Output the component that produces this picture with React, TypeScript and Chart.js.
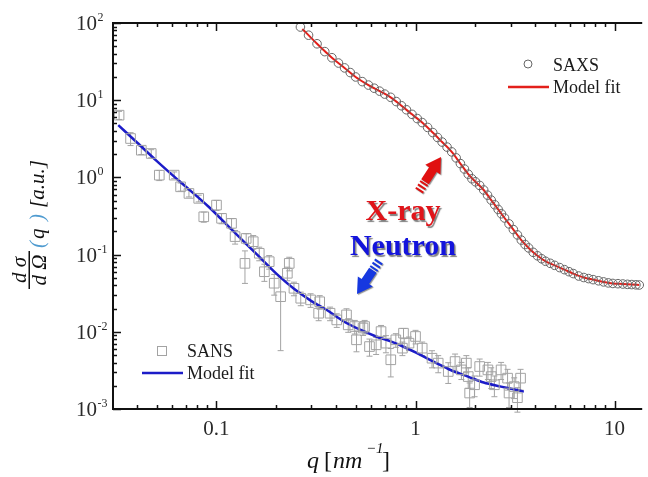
import React, { useEffect, useRef } from "react";
import { Chart, registerables } from "chart.js";
Chart.register(...registerables);

// ---- data ----
const saxsQ = [0.264,0.29,0.32,0.35,0.38,0.41,0.44,0.47,0.50,0.54,0.58,0.62,0.66,0.70,0.75,0.80,0.85,0.90,0.96,1.02,1.08,1.15,1.22,1.29,1.36,1.44,1.52,1.60,1.68,1.76,1.84,1.92,2.0,2.1,2.2,2.3,2.4,2.5,2.6,2.7,2.8,2.95,3.1,3.25,3.4,3.55,3.7,3.9,4.1,4.3,4.5,4.75,5.0,5.3,5.6,5.9,6.2,6.6,7.0,7.4,7.8,8.3,8.8,9.3,9.8,10.4,11.0,11.6,12.2,12.8,13.3];
const saxsI = [88.7,69.5,53.8,42.6,35.5,30.3,26.2,22.8,20.0,17.4,15.7,14.3,13.1,12.0,10.9,9.6,8.47,7.52,6.56,5.78,5.13,4.44,3.81,3.29,2.87,2.47,2.14,1.79,1.51,1.285,1.10,0.96,0.877,0.787,0.687,0.589,0.508,0.442,0.385,0.338,0.298,0.250,0.211,0.180,0.154,0.135,0.122,0.107,0.0964,0.0883,0.0820,0.0771,0.0726,0.0679,0.0638,0.0601,0.0568,0.0528,0.0505,0.0489,0.0474,0.0458,0.0443,0.0430,0.0423,0.0420,0.0416,0.0412,0.0409,0.0406,0.0404];

const saxsFitQ = [0.27,0.32,0.38,0.44,0.5,0.58,0.66,0.75,0.85,0.96,1.08,1.22,1.36,1.52,1.68,1.84,2.0,2.2,2.4,2.6,2.8,3.1,3.4,3.7,4.1,4.5,5.0,5.6,6.2,7.0,7.8,8.8,9.8,11.0,12.2,13.3];
const saxsFitI = [83.8,53.8,35.5,26.2,20.0,15.7,13.1,10.9,8.47,6.56,5.13,3.81,2.87,2.14,1.51,1.10,0.877,0.687,0.508,0.385,0.298,0.211,0.154,0.122,0.0964,0.082,0.0726,0.0638,0.0568,0.0505,0.0474,0.0443,0.0423,0.0416,0.0409,0.0404];

const sansQ = [0.0324,0.037,0.0419,0.047,0.0516,0.0613,0.066,0.0727,0.0814,0.0863,0.100,0.106,0.119,0.124,0.139,0.141,0.153,0.164,0.174,0.184,0.195,0.210,0.227,0.232,0.245,0.265,0.297,0.326,0.330,0.372,0.402,0.450,0.459,0.495,0.505,0.545,0.555,0.587,0.634,0.671,0.710,0.751,0.796,0.859,0.870,0.927,1.00,1.08,1.21,1.30,1.46,1.58,1.70,1.80,1.84,1.87,1.98,2.10,2.31,2.40,2.49,2.69,2.90,2.95,3.13,3.25,3.37];
const sansI = [6.4,3.19,2.25,2.04,1.07,1.07,0.755,0.62,0.535,0.309,0.438,0.295,0.254,0.171,0.077,0.162,0.147,0.104,0.060,0.081,0.0426,0.0285,0.0573,0.077,0.0366,0.0272,0.0259,0.0174,0.0245,0.0174,0.01425,0.01655,0.0123,0.0117,0.00787,0.0112,0.0117,0.00644,0.00678,0.01007,0.00713,0.00434,0.00787,0.00614,0.0096,0.00713,0.0087,0.00614,0.00455,0.00393,0.00306,0.00412,0.00321,0.00393,0.00263,0.00161,0.00206,0.00355,0.00321,0.00263,0.00206,0.00321,0.00251,0.00161,0.00195,0.0014,0.00251];
const sansErr = [0.12,0.19,0.12,0.12,0.15,0.1,0.12,0.1,0.1,0.15,0.15,0.15,0.15,0.2,0.45,0.15,0.2,0.2,0.25,0.2,0.3,0.8,0.2,0.2,0.2,0.2,0.2,0.2,0.2,0.2,0.2,0.2,0.2,0.2,0.3,0.2,0.2,0.25,0.25,0.2,0.25,0.4,0.2,0.2,0.15,0.2,0.2,0.2,0.25,0.25,0.3,0.25,0.25,0.25,0.3,0.35,0.3,0.25,0.25,0.3,0.3,0.25,0.3,0.35,0.3,0.35,0.3];

const sansFitQ = [0.0321,0.04,0.05,0.065,0.0913,0.12,0.16,0.203,0.245,0.30,0.36,0.434,0.52,0.634,0.75,0.859,1.0,1.256,1.5,1.836,2.2,2.69,3.1,3.5];
const sansFitI = [4.75,2.81,1.64,0.897,0.417,0.207,0.0998,0.0545,0.036,0.025,0.019,0.0137,0.0108,0.0087,0.0075,0.0065,0.0054,0.0040,0.0032,0.00263,0.0022,0.00195,0.0018,0.00168];

const xTickValues = [0.1, 1, 10];
const xTickLabels = ["0.1", "1", "10"];
const yTickValues = [100, 10, 1, 0.1, 0.01, 0.001];
const yTickExps = ["2", "1", "0", "-1", "-2", "-3"];

const saxsLegend = ["SAXS", "Model fit"];
const sansLegend = ["SANS", "Model fit"];
const xrayLabel = "X-ray";
const neutronLabel = "Neutron";

const SERIF = '"Liberation Serif", "Times New Roman", serif';
const RED = "#e3201b";
const BLUE = "#1c1cc8";
const SAXS_GRAY = "#666666";
const SANS_GRAY = "#a3a3a3";

function blockArrow(ctx: CanvasRenderingContext2D, tx: number, ty: number, hx: number, hy: number, color: string) {
  const dx = hx - tx, dy = hy - ty;
  const L = Math.hypot(dx, dy);
  const ux = dx / L, uy = dy / L;
  const nx = -uy, ny = ux;
  const P = (a: number, b: number) => [tx + ux * a + nx * b, ty + uy * a + ny * b];
  const poly = (pts: number[][]) => {
    ctx.beginPath();
    pts.forEach((p, i) => (i ? ctx.lineTo(p[0], p[1]) : ctx.moveTo(p[0], p[1])));
    ctx.closePath();
    ctx.fill();
  };
  const headLen = 15, headW = 9, shaftW = 4.5;
  ctx.save();
  ctx.fillStyle = color;
  ctx.shadowColor = "rgba(0,0,0,0.45)";
  ctx.shadowOffsetX = 1;
  ctx.shadowOffsetY = 1;
  ctx.shadowBlur = 1;
  poly([P(11, -shaftW), P(L - headLen, -shaftW), P(L - headLen, -headW), P(L, 0), P(L - headLen, headW), P(L - headLen, shaftW), P(11, shaftW)]);
  [0, 4, 8].forEach((s) => poly([P(s, -shaftW), P(s + 2, -shaftW), P(s + 2, shaftW), P(s, shaftW)]));
  ctx.restore();
}

const decorPlugin = {
  id: "decor",
  beforeDatasetsDraw(chart: any) {
    const ctx: CanvasRenderingContext2D = chart.ctx;
    const xs = chart.scales.x, ys = chart.scales.y;
    ctx.save();
    ctx.strokeStyle = SANS_GRAY;
    ctx.lineWidth = 1;
    sansQ.forEach((q, i) => {
      const v = sansI[i], e = sansErr[i];
      const px = xs.getPixelForValue(q);
      const y1 = ys.getPixelForValue(v * (1 + e));
      const y2 = ys.getPixelForValue(v * (1 - e));
      ctx.beginPath();
      ctx.moveTo(px, y1); ctx.lineTo(px, y2);
      ctx.moveTo(px - 3, y1); ctx.lineTo(px + 3, y1);
      ctx.moveTo(px - 3, y2); ctx.lineTo(px + 3, y2);
      ctx.stroke();
    });
    ctx.restore();
  },
  afterDatasetsDraw(chart: any) {
    const ctx: CanvasRenderingContext2D = chart.ctx;
    const xs = chart.scales.x, ys = chart.scales.y;
    const { left, right, top, bottom } = chart.chartArea;
    ctx.save();
    // axis frame (bottom, left, top)
    ctx.strokeStyle = "#111";
    ctx.lineWidth = 2;
    ctx.beginPath();
    ctx.moveTo(left - 1, top); ctx.lineTo(right + 2, top);
    ctx.moveTo(left, top - 1); ctx.lineTo(left, bottom + 1);
    ctx.moveTo(left - 1, bottom); ctx.lineTo(right + 2, bottom);
    ctx.stroke();
    // inward ticks
    ctx.lineWidth = 1.5;
    ctx.beginPath();
    for (let d = -3; d <= 2; d++) {
      for (let m = 1; m <= 9; m++) {
        const v = m * Math.pow(10, d);
        const len = m === 1 ? 8 : 4;
        if (v >= xs.min * 0.999 && v <= xs.max) {
          const px = Math.round(xs.getPixelForValue(v)) + 0.5;
          ctx.moveTo(px, bottom); ctx.lineTo(px, bottom - len);
          ctx.moveTo(px, top); ctx.lineTo(px, top + len);
        }
        if (v >= ys.min * 0.999 && v <= ys.max * 1.001) {
          const py = Math.round(ys.getPixelForValue(v)) + 0.5;
          ctx.moveTo(left, py); ctx.lineTo(left + len, py);
        }
      }
    }
    ctx.stroke();

    // tick labels
    ctx.fillStyle = "#2a2a2a";
    ctx.font = `21px ${SERIF}`;
    ctx.textBaseline = "alphabetic";
    ctx.textAlign = "center";
    xTickValues.forEach((v, i) => {
      ctx.fillText(xTickLabels[i], xs.getPixelForValue(v), 435);
    });
    yTickValues.forEach((v, i) => {
      const py = ys.getPixelForValue(v);
      ctx.textAlign = "right";
      ctx.font = `21px ${SERIF}`;
      ctx.fillText("10", 97, py + 7);
      ctx.textAlign = "left";
      ctx.font = `12px ${SERIF}`;
      ctx.fillText(yTickExps[i], 97.5, py - 2);
    });

    // x title  q [nm^-1]
    ctx.fillStyle = "#111";
    ctx.textAlign = "left";
    ctx.font = `italic 24px ${SERIF}`;
    ctx.fillText("q", 307, 468);
    ctx.font = `24px ${SERIF}`;
    ctx.fillText("[", 324, 468);
    ctx.font = `italic 24px ${SERIF}`;
    ctx.fillText("nm", 333, 468);
    ctx.font = `italic 15px ${SERIF}`;
    ctx.fillText("\u22121", 366, 453);
    ctx.font = `24px ${SERIF}`;
    ctx.fillText("]", 382, 468);

    // y title  dσ/dΩ (q) [a.u.]
    ctx.save();
    ctx.rotate(-Math.PI / 2); // local (u,v) -> screen (v, -u)
    ctx.fillStyle = "#111";
    ctx.textAlign = "center";
    ctx.font = `italic 21px ${SERIF}`;
    ctx.fillText("d \u03C3", -270, 26);
    ctx.fillText("d \u03A9", -270, 46);
    ctx.fillRect(-289, 28.5, 38, 1.5);
    ctx.textAlign = "left";
    ctx.font = `italic 21px ${SERIF}`;
    ctx.fillStyle = "#4f9bd0";
    ctx.fillText("(", -248, 44);
    ctx.fillText(")", -221, 44);
    ctx.fillStyle = "#111";
    ctx.fillText("q", -239, 44);
    ctx.fillText("[a.u.]", -208, 44);
    ctx.restore();

    // legends
    ctx.font = `18px ${SERIF}`;
    ctx.fillStyle = "#1a1a1a";
    ctx.textAlign = "left";
    // SAXS legend
    ctx.strokeStyle = SAXS_GRAY;
    ctx.lineWidth = 1;
    ctx.beginPath(); ctx.arc(528, 64, 4, 0, Math.PI * 2); ctx.stroke();
    ctx.fillText(saxsLegend[0], 553, 70.5);
    ctx.strokeStyle = RED; ctx.lineWidth = 2.5;
    ctx.beginPath(); ctx.moveTo(508, 87); ctx.lineTo(549, 87); ctx.stroke();
    ctx.fillText(saxsLegend[1], 553, 93);
    // SANS legend
    ctx.strokeStyle = SANS_GRAY; ctx.lineWidth = 1;
    ctx.strokeRect(157.5, 346.5, 9, 9);
    ctx.fillText(sansLegend[0], 187, 357);
    ctx.strokeStyle = BLUE; ctx.lineWidth = 2.5;
    ctx.beginPath(); ctx.moveTo(142, 373); ctx.lineTo(183, 373); ctx.stroke();
    ctx.fillText(sansLegend[1], 187, 379);

    // annotations
    blockArrow(ctx, 419, 191, 441, 157, "#e01010");
    blockArrow(ctx, 379, 261, 357, 294, "#1638e0");
    ctx.save();
    ctx.textAlign = "center";
    ctx.font = `bold 30px ${SERIF}`;
    ctx.shadowColor = "rgba(0,0,0,0.5)";
    ctx.shadowOffsetX = 1.5;
    ctx.shadowOffsetY = 1.5;
    ctx.shadowBlur = 1;
    ctx.fillStyle = "#e0141a";
    ctx.fillText(xrayLabel, 403, 220);
    ctx.fillStyle = "#1414dc";
    ctx.fillText(neutronLabel, 403, 255);
    ctx.restore();

    ctx.restore();
  },
};

export default function App() {
  const ref = useRef<HTMLCanvasElement>(null);
  useEffect(() => {
    if (!ref.current) return;
    const chart = new Chart(ref.current, {
      type: "scatter",
      data: {
        datasets: [
          {
            label: "SANS",
            data: sansQ.map((q, i) => ({ x: q, y: sansI[i] })),
            pointStyle: "rect",
            pointRadius: 6.8,
            borderColor: SANS_GRAY,
            backgroundColor: "rgba(0,0,0,0)",
            borderWidth: 1,
            showLine: false,
            clip: false,
          } as any,
          {
            label: "SAXS",
            data: saxsQ.map((q, i) => ({ x: q, y: saxsI[i] })),
            pointStyle: "circle",
            pointRadius: 4.3,
            borderColor: SAXS_GRAY,
            backgroundColor: "rgba(0,0,0,0)",
            borderWidth: 1,
            showLine: false,
            clip: false,
          } as any,
          {
            label: "Model fit",
            data: saxsFitQ.map((q, i) => ({ x: q, y: saxsFitI[i] })),
            showLine: true,
            borderColor: RED,
            borderWidth: 2,
            pointRadius: 0,
            cubicInterpolationMode: "monotone",
          } as any,
          {
            label: "Model fit",
            data: sansFitQ.map((q, i) => ({ x: q, y: sansFitI[i] })),
            showLine: true,
            borderColor: BLUE,
            borderWidth: 2.5,
            pointRadius: 0,
            cubicInterpolationMode: "monotone",
          } as any,
        ],
      },
      options: {
        animation: false,
        responsive: false,
        devicePixelRatio: 1,
        layout: { padding: { top: 23, left: 0, right: 0, bottom: 0 } },
        plugins: { legend: { display: false }, tooltip: { enabled: false } },
        scales: {
          x: {
            type: "logarithmic",
            min: 0.0302,
            max: 13.45,
            grid: { display: false },
            border: { display: false },
            ticks: { display: false },
            afterFit: (s: any) => { s.height = 68; },
          },
          y: {
            type: "logarithmic",
            min: 0.001,
            max: 100,
            grid: { display: false },
            border: { display: false },
            ticks: { display: false },
            afterFit: (s: any) => { s.width = 113; },
          },
        },
      } as any,
      plugins: [decorPlugin],
    });
    return () => chart.destroy();
  }, []);
  return (
    <div style={{ position: "fixed", left: 0, top: 0, width: 648, height: 477, background: "#fff" }}>
      <canvas ref={ref} width={648} height={477} style={{ display: "block" }} />
    </div>
  );
}
